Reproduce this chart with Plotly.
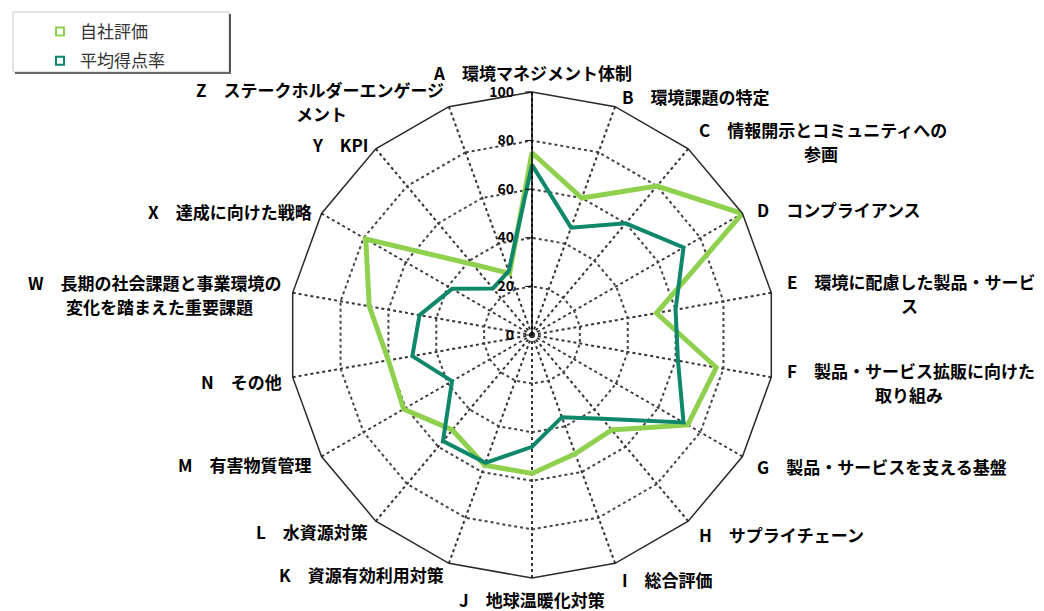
import math
import unicodedata
import plotly.graph_objects as go

letters = ["A", "B", "C", "D", "E", "F", "G", "H", "I", "J", "K", "L", "M", "N", "W", "X", "Y", "Z"]
label_lines = [
    ["環境マネジメント体制"],
    ["環境課題の特定"],
    ["情報開示とコミュニティへの", "参画"],
    ["コンプライアンス"],
    ["環境に配慮した製品・サービ", "ス"],
    ["製品・サービス拡販に向けた", "取り組み"],
    ["製品・サービスを支える基盤"],
    ["サプライチェーン"],
    ["総合評価"],
    ["地球温暖化対策"],
    ["資源有効利用対策"],
    ["水資源対策"],
    ["有害物質管理"],
    ["その他"],
    ["長期の社会課題と事業環境の", "変化を踏まえた重要課題"],
    ["達成に向けた戦略"],
    ["KPI"],
    ["ステークホルダーエンゲージ", "メント"],
]
own_scores = [75, 60, 80, 100, 52, 77, 74, 51, 52, 57, 57, 51, 61, 60, 68, 79, 38, 27]
avg_scores = [70, 47, 60, 72, 60, 61, 72, 45, 36, 46, 56, 57, 38, 50, 47, 38, 25, 28]
series_names = ["自社評価", "平均得点率"]
radial_ticks = [0, 20, 40, 60, 80, 100]

LIGHT = "#8fd14f"
TEAL = "#0e876b"
FONT = "Noto Sans CJK JP"
FS = 17
LINE_GAP = 24

fig = go.Figure()

fig.add_trace(go.Scatterpolar(
    r=own_scores + own_scores[:1], theta=letters + letters[:1],
    mode="lines", line=dict(color=LIGHT, width=5), showlegend=False, name=series_names[0]))
fig.add_trace(go.Scatterpolar(
    r=avg_scores + avg_scores[:1], theta=letters + letters[:1],
    mode="lines", line=dict(color=TEAL, width=4), showlegend=False, name=series_names[1]))

for nm, col, grp in [(series_names[0], LIGHT, "g1"), (series_names[1], TEAL, "g2")]:
    fig.add_trace(go.Scatterpolar(
        r=[None], theta=[letters[0]], mode="markers", name=nm, legendgroup=grp,
        marker=dict(symbol="square-open", size=8, color=col, line=dict(width=2, color=col))))

R = 243
cx, cy = 532, 335
W, H = 1044, 611

def px(x):
    return x / W

def py(y):
    return 1 - y / H

def text_width(s):
    w = 0
    for ch in s:
        w += FS if unicodedata.east_asian_width(ch) in ("W", "F") else FS * 0.62
    return w

annotations = []
n = len(letters)
for i, (lt, lines) in enumerate(zip(letters, label_lines)):
    ang = math.radians(i * 360 / n)
    sx, sy = math.sin(ang), -math.cos(ang)
    first = f"{lt}　{lines[0]}"
    nl = len(lines)
    if abs(sx) < 0.05:
        x = cx
        xa = "center"
        y = cy - R - 20 if sy < 0 else cy + R + 21
        x0_center = x
    else:
        d = R + (14 if sx > 0 else 9)
        x = cx + d * sx
        y = cy + d * sy + 3 - (nl - 1) * LINE_GAP / 2
        xa = "left" if sx > 0 else "right"
        w1 = text_width(first)
        x0_center = x + w1 / 2 if sx > 0 else x - w1 / 2
    for k, ln in enumerate([first] + lines[1:]):
        annotations.append(dict(
            x=px(x if k == 0 else x0_center), y=py(y + k * LINE_GAP),
            xref="paper", yref="paper", showarrow=False,
            xanchor=xa if k == 0 else "center", yanchor="middle",
            text=ln, font=dict(family=FONT, size=FS, color="black", weight="bold"),
        ))

fig.update_layout(
    width=W, height=H,
    margin=dict(l=0, r=0, t=0, b=0),
    paper_bgcolor="white",
    font=dict(family=FONT, color="black"),
    polar=dict(
        domain=dict(x=[(cx - R) / W, (cx + R) / W], y=[(H - cy - R) / H, (H - cy + R) / H]),
        bgcolor="white",
        gridshape="linear",
        angularaxis=dict(
            direction="clockwise", rotation=90, type="category",
            showline=True, linecolor="#2a2a2a", linewidth=1.5,
            showgrid=True, gridcolor="#333333", gridwidth=1.5, griddash="dot",
            ticks="", showticklabels=False,
        ),
        radialaxis=dict(
            range=[0, 100], angle=90, side="counterclockwise",
            tickvals=radial_ticks, ticktext=[f"{v}\u00a0\u00a0" for v in radial_ticks],
            showline=True, linecolor="black", linewidth=1.5,
            ticks="outside", ticklen=6, tickcolor="black",
            showgrid=True, gridcolor="#444444", gridwidth=1.5, griddash="dot",
            tickfont=dict(family=FONT, size=14, color="black", weight="bold"),
            tickangle=90,
        ),
    ),
    legend=dict(
        x=40 / W, y=1 - 14 / H, xanchor="left", yanchor="top",
        bgcolor="rgba(0,0,0,0)", borderwidth=0,
        font=dict(family=FONT, size=17, color="#333333"),
        traceorder="grouped", tracegroupgap=4,
    ),
    annotations=annotations,
    shapes=[
        dict(type="rect", xref="paper", yref="paper",
             x0=px(13), x1=px(229), y0=py(72), y1=py(12),
             line=dict(color="#c8c8c8", width=1), fillcolor="rgba(0,0,0,0)"),
        dict(type="line", xref="paper", yref="paper",
             x0=px(230), x1=px(230), y0=py(14), y1=py(74),
             line=dict(color="#555555", width=2)),
        dict(type="line", xref="paper", yref="paper",
             x0=px(15), x1=px(231), y0=py(73), y1=py(73),
             line=dict(color="#666666", width=2)),
    ],
)

fig.write_html("out.html")
